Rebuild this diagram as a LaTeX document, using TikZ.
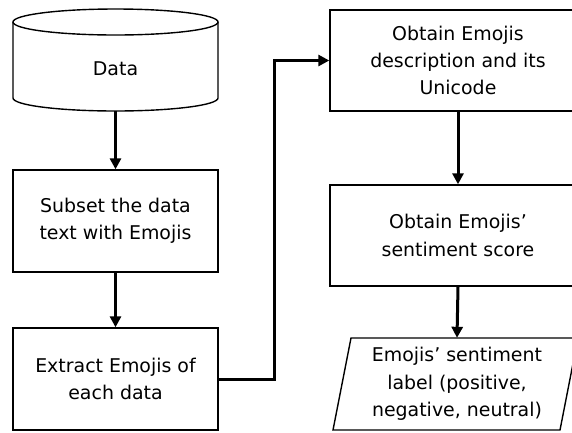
\documentclass[tikz,border=0pt]{standalone}
\usepackage{fontspec}
\setmainfont{DejaVu Sans}
\usetikzlibrary{arrows.meta,calc}
\begin{document}
\begin{tikzpicture}[x=1bp,y=-1bp,
  thin line/.style={line width=1.4bp},
  box/.style={draw,thin line,minimum width=205bp,minimum height=102bp,align=center,inner sep=0pt,font=\fontsize{19}{27.5}\selectfont},
  rbox/.style={box,minimum width=256bp,minimum height=101bp},
  txt/.style={align=center,inner sep=0pt,font=\fontsize{19}{27.5}\selectfont},
  arr/.style={line width=3bp,-{Triangle[length=11bp,width=11bp]}}]
\useasboundingbox (0,0) rectangle (572,432);
% cylinder
\draw[thin line] (115.5,22) ellipse [x radius=102.5bp, y radius=13bp];
\draw[thin line] (13,22) -- (13,98) arc[start angle=180,end angle=360,x radius=102.5bp,y radius=13bp] -- (218,22);
\node[txt] (data) at (115.5,69) {Data};
\coordinate (databot) at (115.5,111);
% left column
\node[box] (subset) at (115.5,221) {Subset the data\\text with Emojis};
\node[box] (extract) at (115.5,379) {Extract Emojis of\\each data};
% right column
\node[rbox] (obtain) at (458,60.5) {Obtain Emojis\\description and its\\Unicode};
\node[rbox] (score) at (458,235.5) {Obtain Emojis’\\sentiment score};
\draw[thin line] (351,338) -- (578,338) -- (560,430) -- (333,430) -- cycle;
\node[txt,minimum height=92bp] (label) at (457,384) {Emojis’ sentiment\\label (positive,\\negative, neutral)};
% connectors
\draw[arr] (databot) -- (subset.north);
\draw[arr] (subset.south) -- (extract.north);
\draw[arr] (extract.east) -| ($(obtain.west)+(-55,0)$) -- (obtain.west);
\draw[arr] (obtain.south) -- (score.north);
\draw[arr] (score.south) -- (label.north);
\end{tikzpicture}
\end{document}
